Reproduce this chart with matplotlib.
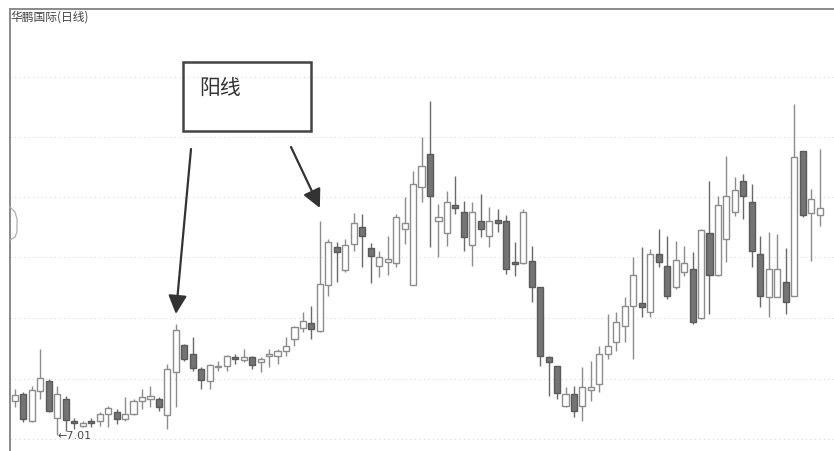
import matplotlib
matplotlib.use("Agg")
import matplotlib.pyplot as plt
from matplotlib.patches import Rectangle
from matplotlib.lines import Line2D
import numpy as np

plt.rcParams['font.family'] = ['Noto Sans CJK SC', 'DejaVu Sans']

# daily candles, 华鹏国际
opens = [7.69, 7.83, 7.29, 7.89, 8.09, 7.35, 7.73, 7.29, 7.19, 7.29,
         7.29, 7.43, 7.47, 7.33, 7.43, 7.69, 7.73, 7.73, 7.41, 8.27,
         8.81, 8.63, 8.33, 8.09, 8.37, 8.39, 8.57, 8.51, 8.57, 8.47,
         8.59, 8.59, 8.69, 8.93, 9.15, 9.25, 9.09, 10.01, 10.77, 10.31,
         10.83, 11.17, 10.75, 10.39, 10.47, 10.45, 11.13, 10.01, 11.97, 12.63,
         11.29, 11.05, 11.61, 11.47, 10.81, 11.29, 10.99, 11.31, 11.29, 10.47,
         10.45, 10.49, 9.97, 8.57, 8.39, 7.59, 7.83, 7.59, 7.91, 8.03,
         8.63, 8.87, 9.19, 9.59, 9.65, 9.47, 10.63, 10.39, 9.97, 10.27,
         10.33, 9.35, 11.05, 10.21, 10.93, 11.47, 12.09, 11.67, 10.63, 9.77,
         9.77, 10.07, 9.79, 12.69, 11.45, 11.41]
highs = [7.93, 7.87, 7.99, 8.73, 8.13, 7.99, 7.79, 7.35, 7.29, 7.35,
         7.47, 7.59, 7.53, 7.77, 7.73, 7.93, 7.99, 7.77, 8.43, 9.23,
         8.83, 8.97, 8.37, 8.43, 8.49, 8.61, 8.63, 8.73, 8.59, 8.57,
         8.73, 8.73, 8.97, 9.19, 9.47, 9.59, 11.29, 10.93, 10.87, 10.93,
         11.45, 11.43, 10.85, 10.69, 10.99, 11.43, 11.77, 12.29, 12.97, 13.69,
         11.63, 11.89, 12.19, 11.69, 11.67, 11.83, 11.57, 11.53, 11.41, 10.87,
         11.53, 10.79, 9.97, 8.59, 8.39, 7.97, 7.99, 8.37, 8.49, 8.79,
         9.43, 9.47, 9.77, 10.57, 10.77, 10.73, 11.13, 10.99, 10.89, 10.79,
         10.67, 11.13, 12.09, 11.79, 12.59, 12.17, 12.23, 12.03, 10.99, 11.07,
         11.03, 10.75, 13.63, 12.69, 11.93, 12.73]
lows = [7.57, 7.27, 7.27, 7.73, 7.47, 7.01, 7.09, 7.13, 7.17, 7.17,
        7.19, 7.17, 7.23, 7.29, 7.41, 7.53, 7.57, 7.49, 7.13, 7.57,
        8.49, 8.29, 7.93, 7.93, 8.29, 8.29, 8.43, 8.47, 8.33, 8.27,
        8.37, 8.43, 8.59, 8.79, 9.07, 8.93, 9.07, 9.79, 10.07, 10.27,
        10.69, 10.37, 10.05, 10.17, 10.21, 10.37, 10.83, 10.01, 11.67, 10.77,
        10.57, 10.79, 11.43, 10.69, 10.39, 10.97, 10.77, 11.07, 10.23, 10.19,
        10.43, 9.67, 8.39, 7.79, 7.73, 7.57, 7.37, 7.29, 7.69, 7.87,
        8.53, 8.69, 8.87, 8.53, 9.37, 9.37, 10.37, 9.73, 9.93, 10.19,
        9.23, 9.33, 9.43, 10.19, 10.47, 11.39, 11.33, 10.37, 9.57, 9.37,
        9.79, 9.43, 9.79, 11.37, 10.49, 11.19]
closes = [7.81, 7.33, 7.91, 8.15, 7.49, 7.83, 7.31, 7.25, 7.25, 7.25,
          7.43, 7.55, 7.33, 7.43, 7.69, 7.77, 7.79, 7.57, 8.33, 9.11,
          8.53, 8.35, 8.11, 8.41, 8.39, 8.59, 8.53, 8.57, 8.41, 8.53,
          8.63, 8.69, 8.79, 9.17, 9.29, 9.13, 10.03, 10.87, 10.67, 10.81,
          11.25, 10.99, 10.59, 10.57, 10.53, 11.37, 11.25, 12.03, 12.39, 11.79,
          11.37, 11.67, 11.55, 10.97, 11.47, 11.13, 11.29, 11.25, 10.33, 10.43,
          11.47, 9.97, 8.59, 8.47, 7.85, 7.83, 7.49, 7.97, 7.97, 8.63,
          8.79, 9.27, 9.59, 10.21, 9.57, 10.63, 10.47, 9.79, 10.51, 10.45,
          9.27, 11.11, 10.21, 11.61, 11.79, 11.91, 11.79, 10.69, 9.79, 10.33,
          10.33, 9.67, 12.57, 11.41, 11.73, 11.55]

grid_levels = [6.93, 8.13, 9.35, 10.57, 11.77, 12.97, 14.17]
title = '华鹏国际(日线)'
note = '阳线'

o = np.array(opens)
h = np.array(highs)
l = np.array(lows)
c = np.array(closes)
idx = np.arange(len(o))
up = c >= o

fig = plt.figure(figsize=(8.34, 4.52), dpi=100)
ax = fig.add_axes([10 / 834, 0, 824 / 834, 442 / 452])

for lv in grid_levels:
    ax.axhline(lv, color='#dadada', lw=0.8, ls=(0, (1, 3)), zorder=0)

# wicks
ax.vlines(idx[up], l[up], h[up], color='#8c8c8c', lw=1.0, zorder=1)
ax.vlines(idx[~up], l[~up], h[~up], color='#6a6a6a', lw=1.0, zorder=1)

# bodies
bot = np.minimum(o, c)
hgt = np.maximum(np.abs(c - o), 0.03)
ax.bar(idx[up], hgt[up], bottom=bot[up], width=0.72, color='white',
       edgecolor='#8c8c8c', linewidth=1.0, zorder=2)
ax.bar(idx[~up], hgt[~up], bottom=bot[~up], width=0.72, color='#747474',
       edgecolor='#5a5a5a', linewidth=1.0, zorder=2)

ax.set_xlim(-0.585, 96.7)
ax.set_ylim(6.69, 15.53)
ax.set_xticks([])
ax.set_yticks([])
for s in ['right', 'bottom']:
    ax.spines[s].set_visible(False)
for s in ['left', 'top']:
    ax.spines[s].set_color('#8a8a8a')
    ax.spines[s].set_linewidth(1.4)

# lowest price label
lo = int(np.argmin(l))
ax.text(lo + 0.05, l[lo], '\u2190' + f'{l[lo]:.2f}', fontsize=8,
        color='#4a4a4a', ha='left', va='center', family='DejaVu Sans')

ax.text(0.001, 0.984, title, transform=ax.transAxes, fontsize=8.5,
        color='#444444', ha='left', va='center')

# little tab on the left edge
tab_x = np.array([10, 15, 17, 17, 15, 10]) / 834
tab_y = 1 - np.array([208, 213, 220, 233, 238, 241]) / 452
fig.add_artist(Line2D(tab_x, tab_y, transform=fig.transFigure,
                      color='#b0b0b0', lw=0.9))

# annotation box and arrows
fig.add_artist(Rectangle((183 / 834, 1 - 132 / 452), 128 / 834, 69 / 452,
                         transform=fig.transFigure, fill=False,
                         edgecolor='#444444', lw=1.8))
fig.text(199 / 834, 1 - 88 / 452, note, fontsize=15, color='#333333',
         ha='left', va='center')

arrow = dict(arrowstyle='-|>', color='#333333', lw=1.6, mutation_scale=28,
             shrinkA=0, shrinkB=0)
ax.annotate('', xy=(19, h[19] + 0.2), xytext=(191, 302),
            textcoords='figure pixels', arrowprops=arrow)
ax.annotate('', xy=(36, h[36] + 0.26), xytext=(291, 304),
            textcoords='figure pixels', arrowprops=arrow)

fig.savefig('out.png', dpi=100, facecolor='white')
